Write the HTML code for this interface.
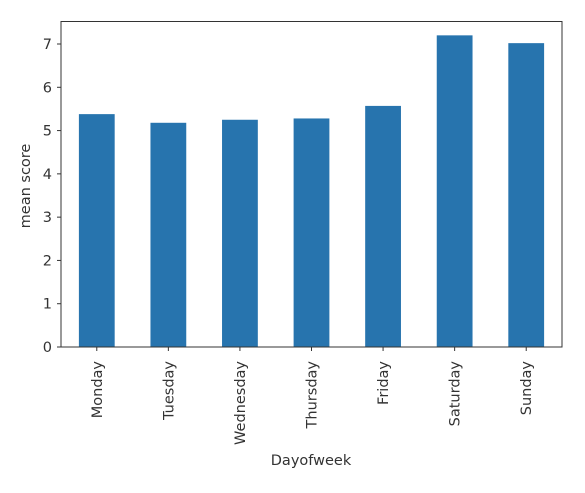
<!DOCTYPE html>
<html><head><meta charset="utf-8"><style>
body{margin:0;background:#fff;}
text{font-family:"DejaVu Sans","Liberation Sans",sans-serif;font-size:14.5px;fill:#333;}
</style></head><body>
<svg id="chart" width="585" height="488" xmlns="http://www.w3.org/2000/svg">
<g id="bars"></g>
<g id="axes"></g>
<text transform="translate(30,186) rotate(-90)" text-anchor="middle">mean score</text>
<text x="311" y="465" text-anchor="middle">Dayofweek</text>
</svg>
<script>
const categories=["Monday","Tuesday","Wednesday","Thursday","Friday","Saturday","Sunday"];
const values=[5.38,5.18,5.25,5.28,5.57,7.2,7.02];
const yTicks=[0,1,2,3,4,5,6,7];
const L=61,R=562,T=21.5,B=347,yMax=7.52;
const NS="http://www.w3.org/2000/svg";
const step=(R-L)/categories.length;
function xs(i){return L+step*(i+0.5);}
function ys(v){return B-(B-T)*v/yMax;}
const bars=document.getElementById('bars'),axes=document.getElementById('axes');
function mk(tag,attrs,parent){const e=document.createElementNS(NS,tag);for(const k in attrs)e.setAttribute(k,attrs[k]);parent.appendChild(e);return e;}
categories.forEach((c,i)=>{
  const w=step*0.5;
  const r=mk('rect',{x:xs(i)-w/2,y:ys(values[i]),width:w,height:B-ys(values[i]),fill:'#2774ae'},bars);
  
  
  mk('line',{x1:xs(i),x2:xs(i),y1:B,y2:B+4,stroke:'#333'},axes);
  const t=mk('text',{transform:`translate(${xs(i)+5},${B+14}) rotate(-90)`,'text-anchor':'end'},axes);
  t.textContent=c;
  
  
});
yTicks.forEach(v=>{
  mk('line',{x1:L-4,x2:L,y1:ys(v),y2:ys(v),stroke:'#333'},axes);
  const t=mk('text',{x:L-9,y:ys(v)+5,'text-anchor':'end'},axes);
  t.textContent=v;
  
  
});
const f=mk('rect',{x:L,y:T,width:R-L,height:B-T,fill:'none',stroke:'#333','stroke-width':1},axes);


</script>
</body></html>
